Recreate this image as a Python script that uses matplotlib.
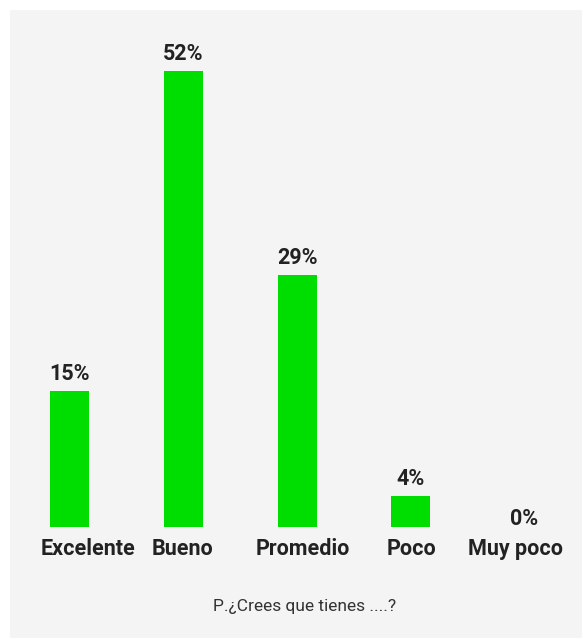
import matplotlib

matplotlib.use("Agg")
import matplotlib.pyplot as plt
from matplotlib.transforms import offset_copy

categories = ["Excelente", "Bueno", "Promedio", "Poco", "Muy poco"]
values = [15.5, 52, 28.7, 3.5, 0]          # bar heights
value_labels = ["15%", "52%", "29%", "4%", "0%"]
caption = "P.¿Crees que tienes ....?"

GREEN = "#00dd00"
TEXT = "#222222"
PANEL = "#f4f4f4"

W, H, DPI = 586, 638, 100
fig = plt.figure(figsize=(W / DPI, H / DPI), dpi=DPI)
fig.patch.set_facecolor("white")

# axes = the grey panel (pixel box)
px0, py0, px1, py1 = 10, 0, 582, 628  # left, bottom, right, top
ax = fig.add_axes([px0 / W, py0 / H, (px1 - px0) / W, (py1 - py0) / H])
ax.set_facecolor(PANEL)
for s in ax.spines.values():
    s.set_visible(False)
ax.set_xticks([])
ax.set_yticks([])

# one category step ~114 px, baseline at y=527 from the top
step = 113.75
first_center = 69.5
ax.set_xlim(-(first_center - px0) / step, (px1 - first_center) / step)
base_from_bottom = H - 527
per_pct = (527 - 71) / 52
ax.set_ylim(-(base_from_bottom - py0) / per_pct, (py1 - base_from_bottom) / per_pct)

x = list(range(len(categories)))
ax.bar(x, values, width=39 / step, color=GREEN, zorder=2)

font = ["Roboto", "DejaVu Sans"]
lifts = [11, 11, 11, 11, 2]  # px between bar top and label baseline
for xi, v, lab, dy in zip(x, values, value_labels, lifts):
    tr = offset_copy(ax.transData, fig=fig, x=0, y=dy, units="dots")
    ax.text(xi, v, lab, transform=tr, ha="center", va="baseline",
            fontsize=15.5, fontweight="bold", color=TEXT, family=font)

# category labels under the baseline; small nudges copy the reference placement
nudges = [19, -1, 6, 1, -9]
for xi, lab, dx in zip(x, categories, nudges):
    tr = offset_copy(ax.transData, fig=fig, x=dx, y=-22, units="dots")
    ax.text(xi, 0, lab, transform=tr, ha="center", va="center",
            fontsize=15.5, fontweight="bold", color=TEXT, family=font)

fig.text(305 / W, 1 - 607 / H, caption, ha="center", va="center",
         fontsize=12.5, color="#333333", family=font)

fig.savefig("out.png", dpi=DPI)
